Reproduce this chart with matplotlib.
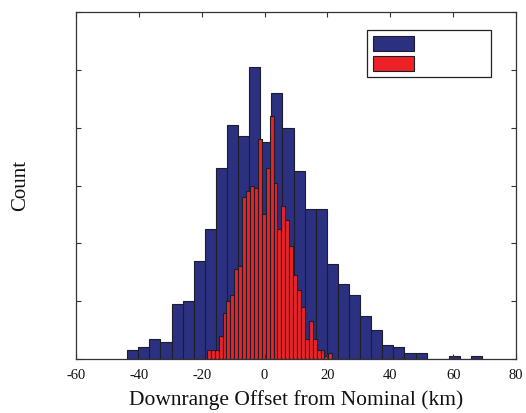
import numpy as np
import matplotlib
matplotlib.use("Agg")
import matplotlib.pyplot as plt
from matplotlib.patches import Patch

# ---- data ----
blue_range = (-43.7, 69.2)
blue_counts = [3, 4, 7, 6, 19, 20, 34, 45, 66, 81, 77, 101, 75, 92, 80, 65,
               52, 52, 33, 26, 22, 15, 10, 5, 4, 2, 2, 0, 0, 1, 0, 1]
red_range = (-18.35, 21.55)
red_counts = [3, 3, 3, 8, 16, 20, 22, 31, 32, 56, 58, 60, 59, 76, 50, 66,
              84, 61, 45, 53, 48, 39, 29, 24, 18, 7, 13, 7, 3, 3, 1, 2]
x_ticks = [-60, -40, -20, 0, 20, 40, 60, 80]
y_ticks = [0, 20, 40, 60, 80, 100, 120]
x_label = "Downrange Offset from Nominal (km)"
y_label = "Count"

blue_color = "#2b3180"
red_color = "#ec2227"
edge_color = "#1e1e2a"

plt.rcParams['font.family'] = ['Liberation Serif', 'DejaVu Serif']

fig = plt.figure(figsize=(5.26, 4.13), dpi=100)
W, H = 526, 413
ax = fig.add_axes([76 / W, 1 - 359 / H, (516 - 76) / W, (359 - 12) / H])

def draw(counts, rng, color):
    edges = np.linspace(rng[0], rng[1], len(counts) + 1)
    ax.bar(edges[:-1], counts, width=np.diff(edges), align='edge',
           color=color, edgecolor=edge_color, linewidth=0.8)

draw(blue_counts, blue_range, blue_color)
draw(red_counts, red_range, red_color)

ax.set_xlim(-60, 80)
ax.set_ylim(0, 120)
ax.set_xticks(x_ticks)
ax.set_xticklabels([str(t) for t in x_ticks])
ax.set_yticks(y_ticks)
ax.set_yticklabels([])
ax.tick_params(direction='in', top=True, right=True, length=3.5, width=0.8,
               colors='#333333', labelcolor='#111111', labelsize=10.5, pad=7)
for s in ax.spines.values():
    s.set_color('#333333')
    s.set_linewidth(0.9)

ax.set_xlabel(x_label, fontsize=15.5, color='#111111', labelpad=6)
ax.set_ylabel(y_label, fontsize=15, color='#111111', labelpad=26)

handles = [Patch(facecolor=blue_color, edgecolor=edge_color, linewidth=0.8),
           Patch(facecolor=red_color, edgecolor=edge_color, linewidth=0.8)]
leg = ax.legend(handles, ['', ''], loc='upper right',
                bbox_to_anchor=((491 - 76) / 440, (359 - 30) / 347),
                borderaxespad=0, fancybox=False, fontsize=10,
                handlelength=2.95, handleheight=1.3, labelspacing=0.3,
                borderpad=0.45, handletextpad=5.1, framealpha=1)
leg.get_frame().set_edgecolor('#222222')
leg.get_frame().set_linewidth(0.9)

fig.savefig("out.png", dpi=100)
